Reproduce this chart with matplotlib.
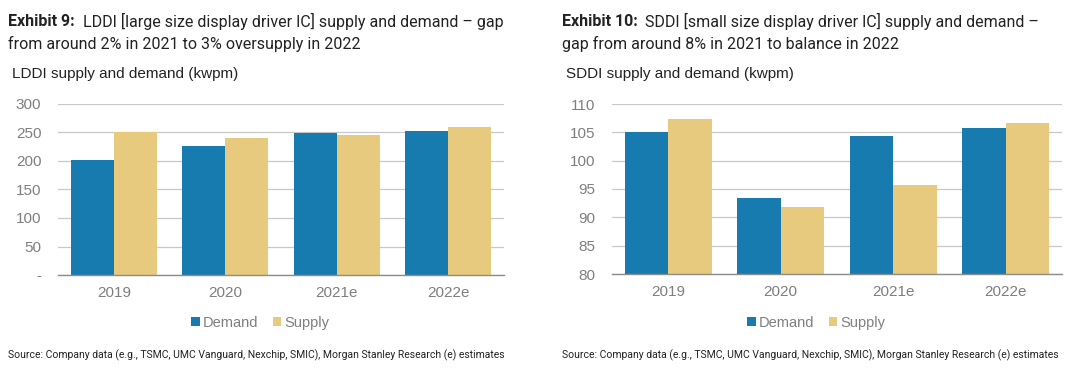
import matplotlib
matplotlib.use("Agg")
import matplotlib.pyplot as plt
import numpy as np

# Datos de los dos gráficos
anios = ["2019", "2020", "2021e", "2022e"]
lddi_demanda = [202, 226, 249, 252]
lddi_oferta = [250, 240, 245, 259]
sddi_demanda = [105.0, 93.4, 104.4, 105.8]
sddi_oferta = [107.4, 91.8, 95.7, 106.6]

AZUL = "#187bb0"
ARENA = "#e8ca7f"
GRIS = "#7f7f7f"
W, H = 1085, 375
ARIAL = ["Liberation Sans", "DejaVu Sans"]

plt.rcParams["font.family"] = ["Roboto", "DejaVu Sans"]

fig = plt.figure(figsize=(W / 100, H / 100), dpi=100)


def px(x, y):
    return x / W, 1 - y / H


def panel(x0, x1, y_top, y_bot, demanda, oferta, ylim, paso, cero_guion):
    ax = fig.add_axes([x0 / W, 1 - y_bot / H, (x1 - x0) / W, (y_bot - y_top) / H])
    x = np.arange(len(anios))
    ancho = 0.385
    ax.bar(x - ancho / 2, demanda, ancho, color=AZUL, label="Demand", zorder=3)
    ax.bar(x + ancho / 2, oferta, ancho, color=ARENA, label="Supply", zorder=3)
    ax.set_xlim(-0.5, len(anios) - 0.5)
    ax.set_ylim(*ylim)
    ticks = np.arange(ylim[0], ylim[1] + paso / 2, paso)
    ax.set_yticks(ticks)
    etiquetas = [f"{t:.0f}" for t in ticks]
    if cero_guion:
        etiquetas[0] = "-"
    ax.set_yticklabels(etiquetas)
    ax.set_xticks(x)
    ax.set_xticklabels(anios)
    ax.tick_params(length=0, labelsize=11, colors=GRIS, pad=8)
    ax.tick_params(axis="y", pad=12)
    for lbl in ax.get_xticklabels() + ax.get_yticklabels():
        lbl.set_family(ARIAL)
    ax.grid(axis="y", color="#c8c8c8", linewidth=0.9, zorder=0)
    for s in ["top", "right", "left"]:
        ax.spines[s].set_visible(False)
    ax.spines["bottom"].set_color("#8c8c8c")
    ax.spines["bottom"].set_linewidth(1.0)
    ax.spines["bottom"].set_zorder(4)
    return ax


ax1 = panel(58, 504, 104, 275, lddi_demanda, lddi_oferta, (0, 300), 50, True)
ax2 = panel(612, 1062, 104, 274, sddi_demanda, sddi_oferta, (80, 110), 5, False)

# Títulos
def titulo(x_neg, x_txt, linea1, linea2, num):
    fig.text(*px(x_neg, 21), f"Exhibit {num}:", fontsize=11.5, fontweight="bold",
             color="#222222", va="center", ha="left")
    fig.text(*px(x_txt, 21), linea1, fontsize=11.5, color="#222222", va="center", ha="left")
    fig.text(*px(x_neg, 44), linea2, fontsize=11.5, color="#222222", va="center", ha="left")


titulo(8, 83, "LDDI [large size display driver IC] supply and demand \u2013 gap",
       "from around 2% in 2021 to 3% oversupply in 2022", 9)
titulo(562, 645, "SDDI [small size display driver IC] supply and demand \u2013",
       "gap from around 8% in 2021 to balance in 2022", 10)

fig.text(*px(12, 74), "LDDI supply and demand (kwpm)", fontsize=11, color="#222222",
         va="center", ha="left", family=ARIAL)
fig.text(*px(566, 74), "SDDI supply and demand (kwpm)", fontsize=11, color="#222222",
         va="center", ha="left", family=ARIAL)

# Leyendas
for ax, cx in [(ax1, 260), (ax2, 816)]:
    h, l = ax.get_legend_handles_labels()
    fig.legend(h, l, loc="center", bbox_to_anchor=px(cx, 323), ncol=2, frameon=False,
               prop={"family": ARIAL, "size": 10.5}, labelcolor=GRIS,
               handlelength=0.6, handleheight=0.6, handletextpad=0.2, columnspacing=1.0)

fuente = "Source: Company data (e.g., TSMC, UMC Vanguard, Nexchip, SMIC), Morgan Stanley Research (e) estimates"
fig.text(*px(8, 355), fuente, fontsize=7.5, color="#222222", va="center", ha="left")
fig.text(*px(562, 355), fuente, fontsize=7.5, color="#222222", va="center", ha="left")

fig.savefig("out.png", dpi=100)
